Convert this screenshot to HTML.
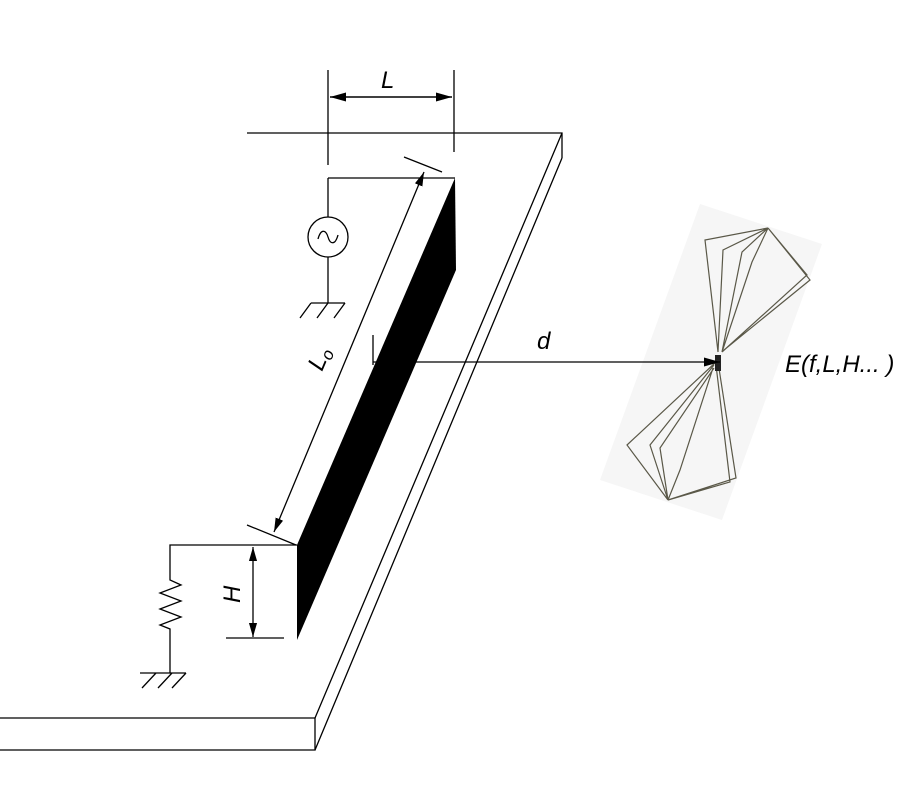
<!DOCTYPE html>
<html><head><style>body{margin:0;background:#fff}</style></head><body>
<svg width="900" height="800" xmlns="http://www.w3.org/2000/svg" style="display:block">
<defs>
<marker id="a" viewBox="0 0 10 10" refX="10" refY="5" markerWidth="14" markerHeight="9" orient="auto-start-reverse" markerUnits="userSpaceOnUse" preserveAspectRatio="none"><path d="M0,0.5 L10,5 L0,9.5z" fill="#000"/></marker>
<marker id="b" viewBox="0 0 10 10" refX="10" refY="5" markerWidth="16" markerHeight="10" orient="auto-start-reverse" markerUnits="userSpaceOnUse" preserveAspectRatio="none"><path d="M0,0.5 L10,5 L0,9.5z" fill="#000"/></marker>
</defs>
<!-- antenna -->
<polygon points="700,204 822,244 722,520 600,480" fill="#f6f6f6"/>
<g stroke="#5a5848" stroke-width="1.2" fill="none">
<path d="M768,228 L705,240 L718,352 M768,228 L723,250 L718,352 M768,228 L742,252 L722,352 M768,228 L752,262 L722,352 M768,228 L807,275 L722,352 M768,228 L810,280 L724,350"/>
<path d="M668,500 L627,445 L716,362 M668,500 L650,445 L714,365 M668,500 L660,448 L714,368 M668,500 L680,470 L713,368 M668,500 L730,482 L716,365 M668,500 L736,478 L718,362"/>
</g>
<rect x="715" y="355" width="6" height="16" fill="#222"/>
<g stroke="#000" stroke-width="1.3" fill="none">
<path d="M247,133 H562 V158"/>
<path d="M562,133 L315,718 M562,158 L315,750"/>
<path d="M0,718 H315 V750 H0"/>
<path d="M328,70 V165 M454,70 V152"/>
<line x1="330" y1="97" x2="452" y2="97" stroke-width="1.5" marker-start="url(#b)" marker-end="url(#b)"/>
<path d="M404,157 L442,172 M247,525 L296,545"/>
<line x1="274" y1="532" x2="424" y2="172" marker-start="url(#a)" marker-end="url(#a)"/>
<path d="M328,178 H455 M328,178 V217 M328,257 V303 M311,303 H345 M311,303 L300,318 M328,303 L317,318 M345,303 L334,318"/>
<circle cx="328" cy="237" r="20"/>
<path d="M318,239 C321,228 326,230 328,237 C330,244 335,246 338,235"/>
<path d="M373,335 V365"/>
<line x1="373" y1="362" x2="720" y2="362" marker-end="url(#b)"/>
<path d="M297,545 H170 V580 L181,585 L160,593 L181,601 L160,609 L181,617 L160,625 L170,629 V673 M140,673 H186 M156,673 L142,688 M172,673 L158,688 M186,673 L172,688"/>
<path d="M226,638 H284"/>
<line x1="253" y1="547" x2="253" y2="637" marker-start="url(#a)" marker-end="url(#a)"/>
</g>
<polygon points="455,178 456,270 297,640 297,545" fill="#000"/>
<g font-family="Liberation Sans, sans-serif" font-style="italic" font-size="24" fill="#000">
<text x="381" y="88">L</text>
<text x="537" y="349">d</text>
<text x="785" y="372">E(f,L,H... )</text>
<text transform="translate(240,603) rotate(-90)">H</text>
<text transform="translate(322,372) rotate(-67)">L<tspan font-size="17" dy="4">o</tspan></text>
</g>
</svg>
</body></html>
